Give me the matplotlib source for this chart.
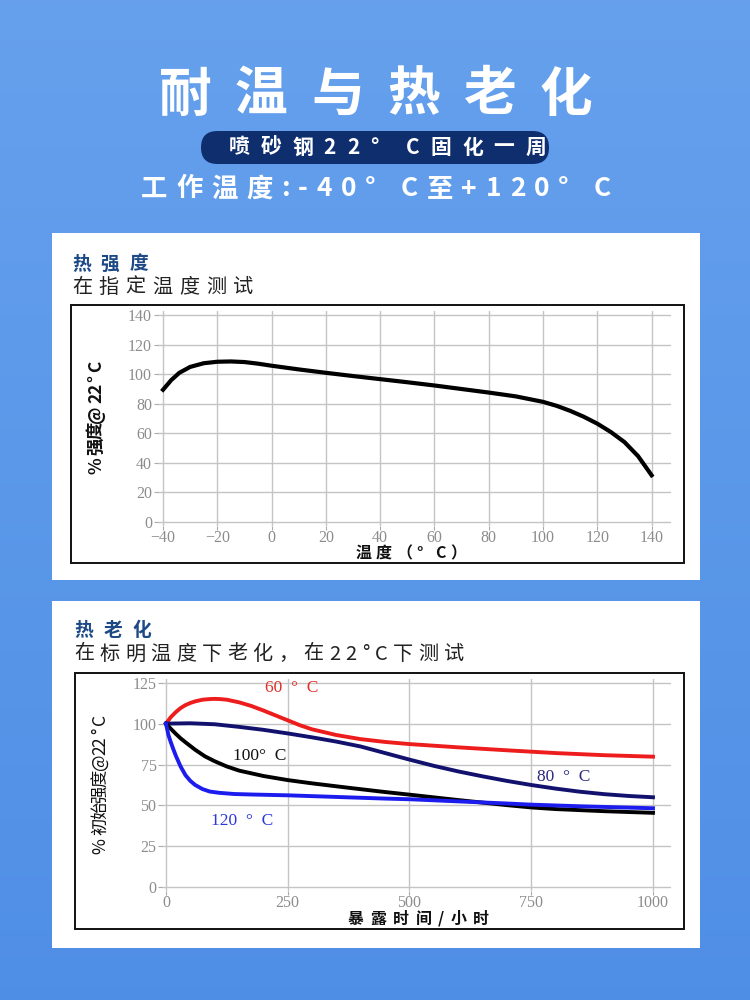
import matplotlib
matplotlib.use("Agg")
import matplotlib.pyplot as plt
import numpy as np
from matplotlib.patches import Rectangle, FancyBboxPatch

plt.rcParams['font.family'] = ['Noto Sans CJK SC', 'DejaVu Sans']

# ---- data: 热强度 (strength vs test temperature)
temp_c = [-40, -37, -34, -30, -25, -20, -15, -10, -5, 0, 10, 20, 30, 40, 50, 60,
          70, 80, 90, 100, 105, 110, 115, 120, 125, 130, 135, 140]
strength = [89.5, 96, 101, 105, 107.5, 108.5, 108.7, 108.3, 107.2, 105.8, 103.3,
            101, 98.8, 96.7, 94.6, 92.4, 90, 87.6, 85, 81.3, 78.6, 75.2, 71.2,
            66.5, 60.8, 54, 44.5, 31.5]
x1_ticks = [-40, -20, 0, 20, 40, 60, 80, 100, 120, 140]
y1_ticks = [0, 20, 40, 60, 80, 100, 120, 140]

# ---- data: 热老化 (retained strength vs exposure hours)
t_red = [0, 10, 20, 30, 40, 50, 60, 75, 90, 100, 110, 125, 150, 175, 200, 225,
         250, 275, 300, 350, 400, 450, 500, 600, 700, 800, 900, 1000]
v_red = [100, 104, 107, 109.5, 111.3, 112.6, 113.6, 114.6, 115, 115.1, 115,
         114.6, 113, 110.8, 108, 105, 102, 99, 96.5, 93, 90.5, 88.8, 87.5,
         85.5, 83.7, 82, 80.7, 79.8]
t_navy = [0, 50, 100, 150, 200, 250, 300, 350, 400, 450, 500, 550, 600, 650,
          700, 750, 800, 850, 900, 950, 1000]
v_navy = [100, 100.2, 99.6, 98, 96.2, 94, 91.6, 89, 86, 82, 78, 74.2, 70.8,
          67.8, 65, 62.5, 60.3, 58.4, 56.9, 55.8, 55]
t_black = [0, 10, 20, 30, 40, 60, 80, 100, 125, 150, 200, 250, 300, 375, 450,
           500, 600, 700, 750, 800, 900, 1000]
v_black = [100, 96.8, 93.8, 91, 88.6, 84, 80, 77, 73.8, 71.3, 68, 65.5, 63.5,
           60.8, 58.2, 56.6, 53.3, 50.2, 48.8, 47.8, 46.5, 45.5]
t_blue = [0, 5, 10, 15, 20, 30, 40, 50, 60, 75, 90, 110, 140, 175, 250, 350,
          450, 500, 600, 700, 750, 850, 1000]
v_blue = [100, 93, 88.5, 84.4, 80.5, 73.8, 68.5, 65, 62.5, 60, 58.5, 57.7, 57,
          56.7, 56.2, 55.2, 54.2, 53.8, 52.5, 51.2, 50.5, 49.5, 48.3]
x2_ticks = [0, 250, 500, 750, 1000]
y2_ticks = [0, 25, 50, 75, 100, 125]

fig = plt.figure(figsize=(7.5, 10), dpi=100)
renderer = fig.canvas.get_renderer()

# background canvas in pixel coordinates
bg = fig.add_axes([0, 0, 1, 1])
bg.set_xlim(0, 750)
bg.set_ylim(1000, 0)
bg.axis('off')
grad = np.linspace(0, 1, 256).reshape(-1, 1)
top = np.array([0.40, 0.63, 0.93])
bot = np.array([0.31, 0.56, 0.90])
img = top + (bot - top) * grad[..., None]
bg.imshow(np.repeat(img, 2, axis=1), extent=[0, 750, 1000, 0], aspect='auto', zorder=0)


def spaced(x0, x1, y, s, rot=0, **kw):
    """Lay out s char by char so it fills the span x0..x1 (or y span when rotated)."""
    widths = []
    for ch in s:
        if ch == ' ':
            widths.append(kw['fontsize'] * 100 / 72 * 0.3)
        else:
            t = bg.text(0, 0, ch, **kw)
            widths.append(t.get_window_extent(renderer).width)
            t.remove()
    track = (abs(x1 - x0) - sum(widths)) / max(len(s) - 1, 1)
    pos = 0.0
    for ch, w in zip(s, widths):
        c = pos + w / 2
        if ch != ' ':
            if rot == 0:
                bg.text(x0 + c, y, ch, ha='center', va='center', zorder=4, **kw)
            else:
                bg.text(y, x0 - c, ch, ha='center', va='center', rotation=90,
                        zorder=4, **kw)
        pos += w + track


# title
title = "耐温与热老化"
for i, ch in enumerate(title):
    bg.text(185 + i * 76.2, 95, ch, color='white', fontsize=38, fontweight='heavy',
            ha='center', va='center', zorder=2)

pill = FancyBboxPatch((201, 131), 348, 33, boxstyle="round,pad=0,rounding_size=16.5",
                      fc='#0e2e6e', ec='none', zorder=2)
bg.add_patch(pill)
spaced(229, 546, 147, "喷砂钢22° C固化一周", color='white', fontsize=15,
       fontweight='bold')
spaced(141, 611, 189, "工作温度:-40° C至+120° C", color='white', fontsize=19,
       fontweight='bold')

# white cards
bg.add_patch(Rectangle((52, 233), 648, 347, fc='white', ec='none', zorder=1))
bg.add_patch(Rectangle((52, 601), 648, 347, fc='white', ec='none', zorder=1))

spaced(72, 148, 264, "热强度", color='#1d4a86', fontsize=13.5, fontweight='bold')
spaced(72, 253, 287, "在指定温度测试", color='#222222', fontsize=14.5)
spaced(74, 151, 630, "热老化", color='#1d4a86', fontsize=13.5, fontweight='bold')
spaced(74, 464, 654, "在标明温度下老化，在22°C下测试", color='#222222', fontsize=14.5)

# chart frames
bg.add_patch(Rectangle((71, 305), 613, 258, fc='none', ec='#111111', lw=1.4, zorder=3))
bg.add_patch(Rectangle((75, 673), 609, 256, fc='none', ec='#111111', lw=1.4, zorder=3))

spaced(474, 361, 96, "% 强度@ 22 ° C", rot=90, fontsize=12.5, fontweight='bold',
       color='#111111')
spaced(356, 466, 553, "温度（° C）", fontsize=11.5, fontweight='bold', color='#111111')
spaced(854, 714, 100, "% 初始强度@22 ° C", rot=90, fontsize=12.5, color='#111111')
spaced(348, 489, 919, "暴露时间/小时", fontsize=11.5, fontweight='bold', color='#111111')

serif = 'Liberation Serif'
tick_col = '#8c8c8c'


def style(ax):
    ax.set_facecolor('none')
    for s in ax.spines.values():
        s.set_visible(False)
    ax.grid(True, color='#c4c4c4', lw=1.0)
    ax.set_axisbelow(True)
    ax.tick_params(colors='#aaaaaa', labelcolor=tick_col, length=3, width=0.8,
                   labelsize=11.5, pad=1)
    ax.tick_params(axis='x', pad=0)
    for lab in ax.get_xticklabels() + ax.get_yticklabels():
        lab.set_fontfamily(serif)


# chart 1
ax1 = fig.add_axes([157.6 / 750, 1 - 526.1 / 1000, 513 / 750, 215.2 / 1000])
ax1.plot(temp_c, strength, color='black', lw=3.0)
ax1.set_xlim(-42, 147)
ax1.set_ylim(-3, 143)
ax1.set_xticks(x1_ticks)
ax1.set_yticks(y1_ticks)
ax1.set_xticklabels(["\u221240", "\u221220"] + [str(v) for v in x1_ticks[2:]])
style(ax1)

# chart 2
ax2 = fig.add_axes([162.1 / 750, 1 - 890.6 / 1000, 508.9 / 750, 211.2 / 1000])
ax2.plot(t_red, v_red, color='#ee1d1d', lw=2.8)
ax2.plot(t_navy, v_navy, color='#12126e', lw=2.8)
ax2.plot(t_black, v_black, color='black', lw=2.8)
ax2.plot(t_blue, v_blue, color='#1c1cee', lw=2.8)
ax2.set_xlim(-8, 1037)
ax2.set_ylim(-2, 127)
ax2.set_xticks(x2_ticks)
ax2.set_yticks(y2_ticks)
style(ax2)

lab_kw = dict(fontsize=12.5, fontfamily=serif, ha='left', va='center')
ax2.text(203, 121.5, "60  \u00b0  C", color='#e03028', **lab_kw)
ax2.text(137, 80.2, "100\u00b0  C", color='#111111', **lab_kw)
ax2.text(762, 67.2, "80  \u00b0  C", color='#2a2a80', **lab_kw)
ax2.text(93, 40.7, "120  \u00b0  C", color='#2a38d8', **lab_kw)

fig.savefig("out.png", dpi=100)
